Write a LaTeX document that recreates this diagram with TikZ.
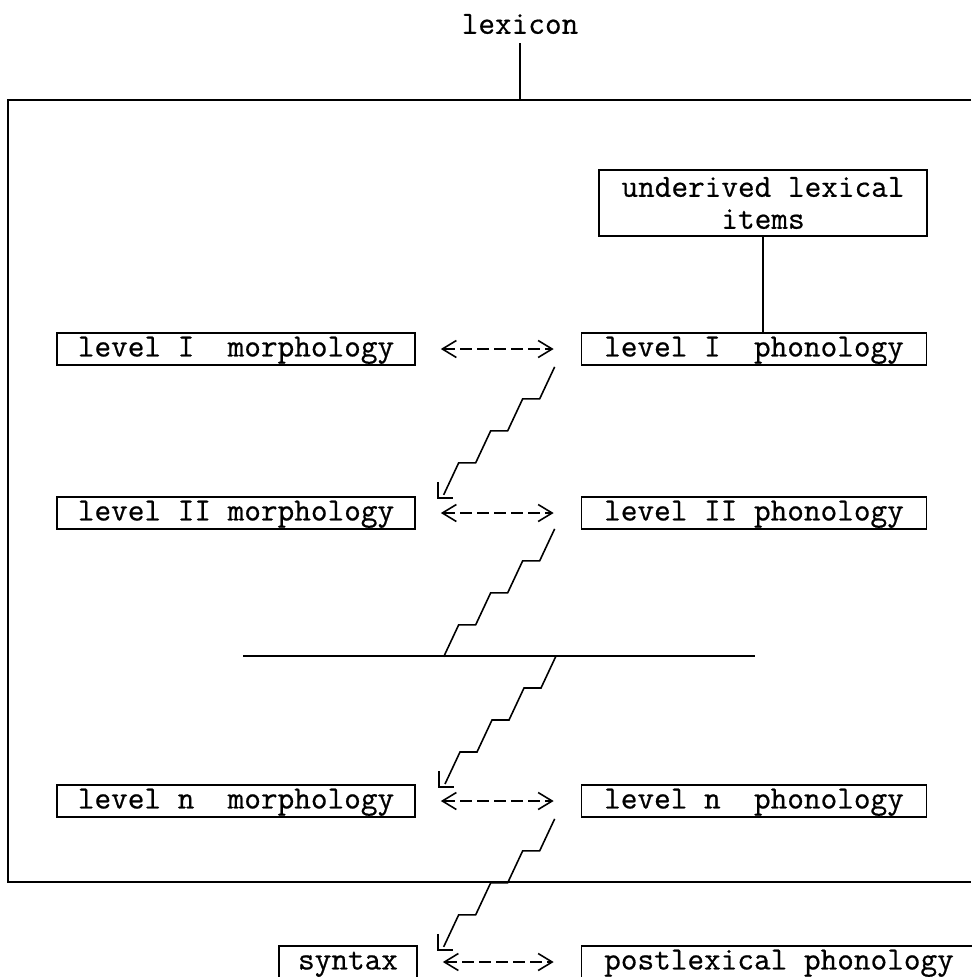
\documentclass[tikz,border=0pt]{standalone}
\usepackage{fontspec}
\newfontfamily\typefont{Latin Modern Mono}[FakeBold=0.6]
\usepackage{tikz}
\usetikzlibrary{positioning}
\usetikzlibrary{calc}
\usetikzlibrary{arrows.meta}

\begin{document}
\begin{tikzpicture}[
  x=0.02cm, y=-0.02cm,
  every node/.style={font=\typefont\fontsize{18.4}{18.2}\selectfont, inner sep=0pt},
  box/.style={draw, line width=1pt, minimum height=0.64cm, text height=11.5pt, text depth=3pt},
  rule/.style={line width=1.3pt},
  link/.style={line width=1pt},
  stair/.style={line width=0.9pt},
  head/.style={line width=1.3pt},
  twoway/.style={line width=0.9pt, dash pattern=on 2.4mm off 1mm,
    {Straight Barb[length=2.8mm,width=3.4mm]}-{Straight Barb[length=2.8mm,width=3.4mm]},
    shorten <=0.5cm, shorten >=0.54cm}
]
  \useasboundingbox (0,0) rectangle (971,977);

  % lexicon and its frame
  \node[inner sep=5pt] (lex) at (520,24) {lexicon};
  \coordinate (ftop) at (0,100);
  \draw[rule] (971,100) -- (8,100) -- (8,882) -- (971,882);
  \draw[link] (lex.south) -- (lex.south |- ftop);

  \node[draw, line width=1pt, minimum width=6.56cm, minimum height=1.32cm, align=center]
    (und) at (763,203) {underived lexical\\items};

  % levels
  \node[box, minimum width=7.16cm] (m1) at (236,349) {level~I~~morphology};
  \node[box, minimum width=6.9cm]  (p1) at (754,349) {level~I~~phonology};
  \node[box, minimum width=7.16cm] (m2) at (236,513) {level~II~morphology};
  \node[box, minimum width=6.9cm]  (p2) at (754,513) {level~II~phonology};
  \node[box, minimum width=7.16cm] (m3) at (236,801) {level~n~~morphology};
  \node[box, minimum width=6.9cm]  (p3) at (754,801) {level~n~~phonology};
  \node[box, minimum width=2.76cm] (syn)  at (348,962) {syntax};
  \node[box, minimum width=7.9cm]  (post) at (779,962) {postlexical~phonology};

  \draw[link] (und) -- (und |- p1.north);

  \draw[twoway] (m1) -- (p1);
  \draw[twoway] (m2) -- (p2);
  \draw[twoway] (m3) -- (p3);
  \draw[twoway] (syn) -- (post);

  % separator
  \draw[rule] (243,656) -- (755,656);
  \coordinate (cut) at (556,656);

  % stairs
  \draw[stair] ($(p1.south west)+(-26,1)$) -- ++(-15,32) -- ++(-17,0) -- ++(-15,32)
    -- ++(-17,0) -- ++(-15,32) -- ++(-17,0) -- ++(-15,32) coordinate (e1);
  \draw[head] ([shift={(-6,-13)}]e1) |- ([shift={(9,3)}]e1);

  \draw[stair] ($(p2.south west)+(-26,-1)$) -- ++(-15,32) -- ++(-17,0) -- ++(-15,32)
    -- ++(-17,0) -- ++(-15,32) -- ++(-17,0) -- ++(-15,32);

  \draw[stair] (cut) -- ++(-15,32) -- ++(-17,0) -- ++(-15,32)
    -- ++(-17,0) -- ++(-15,32) -- ++(-17,0) -- ++(-15,32) coordinate (e3);
  \draw[head] ([shift={(-6,-13)}]e3) |- ([shift={(9,3)}]e3);

  \draw[stair] ($(p3.south west)+(-26,1)$) -- ++(-15,32) -- ++(-17,0) -- ++(-15,32)
    -- ++(-17,0) -- ++(-15,32) -- ++(-17,0) -- ++(-15,32) coordinate (e4);
  \draw[head] ([shift={(-6,-13)}]e4) |- ([shift={(9,3)}]e4);
\end{tikzpicture}
\end{document}
